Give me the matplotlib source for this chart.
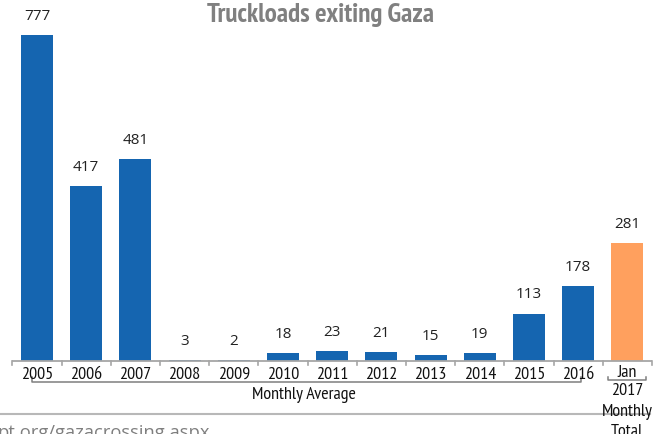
import matplotlib
matplotlib.use("Agg")
import matplotlib.pyplot as plt
from matplotlib.lines import Line2D

# data
years = ["2005", "2006", "2007", "2008", "2009", "2010", "2011",
         "2012", "2013", "2014", "2015", "2016"]
monthly_avg = [777, 417, 481, 3, 2, 18, 23, 21, 15, 19, 113, 178]
jan_2017 = 281
jan_labels = ["Jan", "2017", "Monthly", "Total"]

BLUE = "#1565b0"
ORANGE = "#ffa05e"
NARROW = ["PT Sans Narrow", "Roboto Condensed", "DejaVu Sans"]

W, H = 665, 434
fig = plt.figure(figsize=(W / 100, H / 100), dpi=100)


def fx(px):
    return px / W


def fy(py):
    return 1 - py / H


# axes fill the figure; limits put the baseline at y=361px
ax = fig.add_axes([0, 0, 1, 1])
ax.set_xlim(-0.752, 12.764)
ax.set_ylim(-(H - 361) / 0.41956, 361 / 0.41956)
ax.axis("off")

xs = list(range(len(years)))
ax.bar(xs, monthly_avg, width=0.65, color=BLUE, zorder=2)
ax.bar(len(years), jan_2017, width=0.65, color=ORANGE, zorder=2)

for x, v in zip(xs + [len(years)], monthly_avg + [jan_2017]):
    ax.annotate(str(v), (x, v), xytext=(0, 8), textcoords="offset points",
                ha="center", va="bottom", fontsize=11, color="#222222",
                family="Open Sans")

# baseline and tick marks at category boundaries
n = len(years) + 1
ax.plot([-0.5, n - 0.5], [0, 0], color="#a6a6a6", lw=1.3, zorder=3,
        solid_capstyle="butt")
tick_len = 4 / 0.41956
for i in range(n + 1):
    ax.plot([i - 0.5, i - 0.5], [0, -tick_len], color="#a6a6a6", lw=1.2)

# category labels
for x, y in zip(xs, years):
    fig.text(fx(37 + 49.2 * x), fy(375), y, ha="center", va="center",
             fontsize=13, family=NARROW, color="#111111")

jan_y = [373, 391, 412, 432]
for t, py in zip(jan_labels, jan_y):
    fig.text(fx(627), fy(py), t, ha="center", va="center",
             fontsize=13, family=NARROW, color="#111111")

# brackets
grey = "#7f7f7f"
fig.add_artist(Line2D([fx(32), fx(32), fx(581), fx(581)],
                      [fy(377), fy(382), fy(382), fy(377)],
                      color=grey, lw=1.1))
fig.add_artist(Line2D([fx(608), fx(608), fx(646), fx(646)],
                      [fy(377), fy(380), fy(380), fy(377)],
                      color=grey, lw=1.1))
fig.text(fx(304), fy(395), "Monthly Average", ha="center", va="center",
         fontsize=13, family=NARROW, color="#111111")

# title
fig.text(fx(321), fy(15), "Truckloads exiting Gaza", ha="center",
         va="center", fontsize=19.5, fontweight="bold", family=NARROW,
         color="#808080")

# footer line and source
fig.add_artist(Line2D([0, fx(650)], [fy(414), fy(414)], color="#b8b8b8",
                      lw=1.5))
fig.text(fx(-3), fy(424), "pt.org/gazacrossing.aspx", ha="left", va="top",
         fontsize=13.2, family="Open Sans", color="#7f7f7f")

fig.savefig("out.png", dpi=100)
